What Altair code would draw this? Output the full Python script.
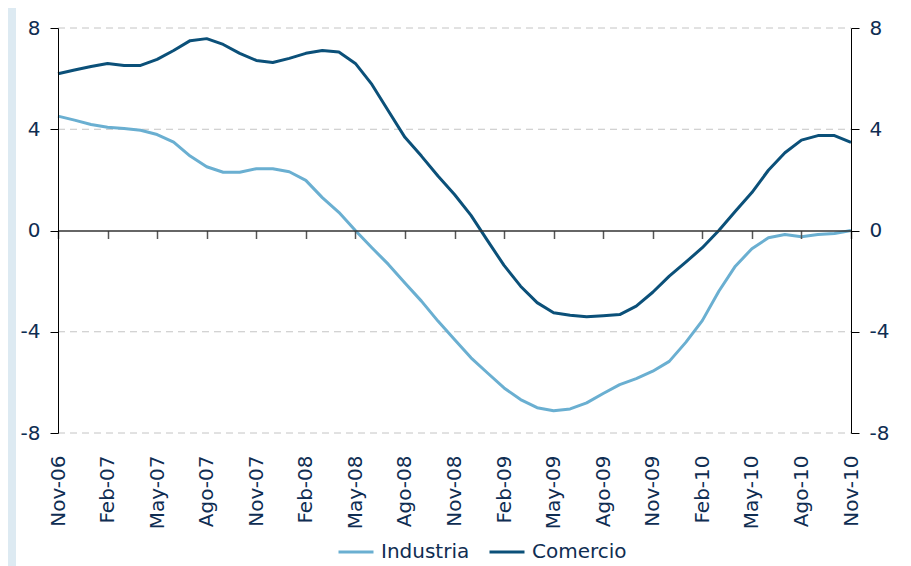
import altair as alt
import pandas as pd

# ---- data ----
x_labels = ["Nov-06", "Feb-07", "May-07", "Ago-07", "Nov-07", "Feb-08", "May-08",
            "Ago-08", "Nov-08", "Feb-09", "May-09", "Ago-09", "Nov-09", "Feb-10",
            "May-10", "Ago-10", "Nov-10"]
y_ticks = [-8, -4, 0, 4, 8]
series_names = ["Industria", "Comercio"]
series_colors = ["#6AAFD1", "#0B5079"]

industria = [4.52, 4.36, 4.19, 4.08, 4.03, 3.96, 3.79, 3.49, 2.94, 2.52,
             2.30, 2.30, 2.44, 2.44, 2.32, 1.98, 1.30, 0.72, 0.00, -0.68,
             -1.34, -2.07, -2.79, -3.58, -4.31, -5.03, -5.63, -6.22, -6.68, -7.00,
             -7.12, -7.05, -6.81, -6.44, -6.09, -5.85, -5.56, -5.17, -4.42, -3.56,
             -2.40, -1.41, -0.72, -0.29, -0.16, -0.25, -0.16, -0.12, 0.00]
comercio = [6.19, 6.34, 6.48, 6.60, 6.52, 6.52, 6.76, 7.11, 7.50, 7.58,
            7.35, 7.00, 6.72, 6.64, 6.80, 7.00, 7.11, 7.05, 6.60, 5.77,
            4.72, 3.68, 2.94, 2.15, 1.42, 0.60, -0.40, -1.38, -2.20, -2.85,
            -3.25, -3.35, -3.41, -3.37, -3.32, -2.99, -2.44, -1.80, -1.25, -0.68,
            0.00, 0.76, 1.50, 2.38, 3.07, 3.57, 3.75, 3.75, 3.48]

n = len(industria)
df = pd.DataFrame({
    "mes": list(range(n)) * 2,
    "valor": industria + comercio,
    "serie": [series_names[0]] * n + [series_names[1]] * n,
})
grid_df = pd.DataFrame({"valor": [v for v in y_ticks if v != 0]})

FONT = "DejaVu Sans"
TXT = "#0F2D52"
W, H = 793, 405

labels_js = "[" + ",".join(f"'{s}'" for s in x_labels) + "]"
label_expr = f"{labels_js}[round(datum.value/3)]"

x_enc = alt.X(
    "mes:Q",
    scale=alt.Scale(domain=[0, n - 1], nice=False, zero=False),
    axis=alt.Axis(values=list(range(0, n, 3)), labelExpr=label_expr, labelAngle=-90,
                  title=None, grid=False, offset=-H / 2, domainColor="#333333",
                  domainWidth=1.5, tickColor="#555555", tickSize=8, tickWidth=1.5,
                  labelPadding=H / 2 + 14, labelFontSize=20, labelColor=TXT,
                  labelFont=FONT, labelOverlap=False, labelFlush=False, zindex=1),
)

y_scale = alt.Scale(domain=[-8, 8], nice=False)
common_y = dict(values=y_ticks, title=None, domainColor="#000000", tickColor="#000000",
                tickSize=8, labelPadding=10, labelFontSize=20, labelColor=TXT,
                labelFont=FONT, labelFlush=False, labelExpr="toString(datum.value)",
                grid=False, zindex=1)

y_left = alt.Y("valor:Q", scale=y_scale, axis=alt.Axis(orient="left", **common_y))
y_right = alt.Y("valor:Q", scale=y_scale, axis=alt.Axis(orient="right", **common_y))

bg = alt.Chart(alt.Data(values=[{}])).mark_rect(color="white").encode(
    x=alt.value(-42), x2=alt.value(W + 57), y=alt.value(-20), y2=alt.value(H + 140)
)

grid = alt.Chart(grid_df).mark_rule(color="#C4C4C4", strokeDash=[7, 5], strokeWidth=1).encode(
    y=alt.Y("valor:Q", scale=y_scale, axis=None),
    x=alt.value(0), x2=alt.value(W),
)

lines = alt.Chart(df).mark_line(strokeWidth=3, strokeJoin="round").encode(
    x=x_enc,
    y=y_left,
    color=alt.Color(
        "serie:N",
        scale=alt.Scale(domain=series_names, range=series_colors),
        legend=alt.Legend(orient="none", legendX=279, legendY=505, direction="horizontal",
                          title=None, symbolType="stroke", symbolSize=1225,
                          symbolStrokeWidth=3, labelFontSize=20, labelFont=FONT,
                          labelColor=TXT, labelOffset=6, columnPadding=13),
    ),
)

right = alt.Chart(df).mark_line(opacity=0).encode(x=x_enc, y=y_right, detail="serie:N")

chart = alt.layer(bg, grid, lines, right).resolve_axis(y="independent").properties(
    width=W, height=H,
    padding={"left": 50, "top": 20, "right": 52, "bottom": 135},
    autosize=alt.AutoSizeParams(type="none"),
    background="#DDEAF2",
).configure_view(stroke=None)

chart.save("out.html", embed_options={"renderer": "svg", "actions": False})
